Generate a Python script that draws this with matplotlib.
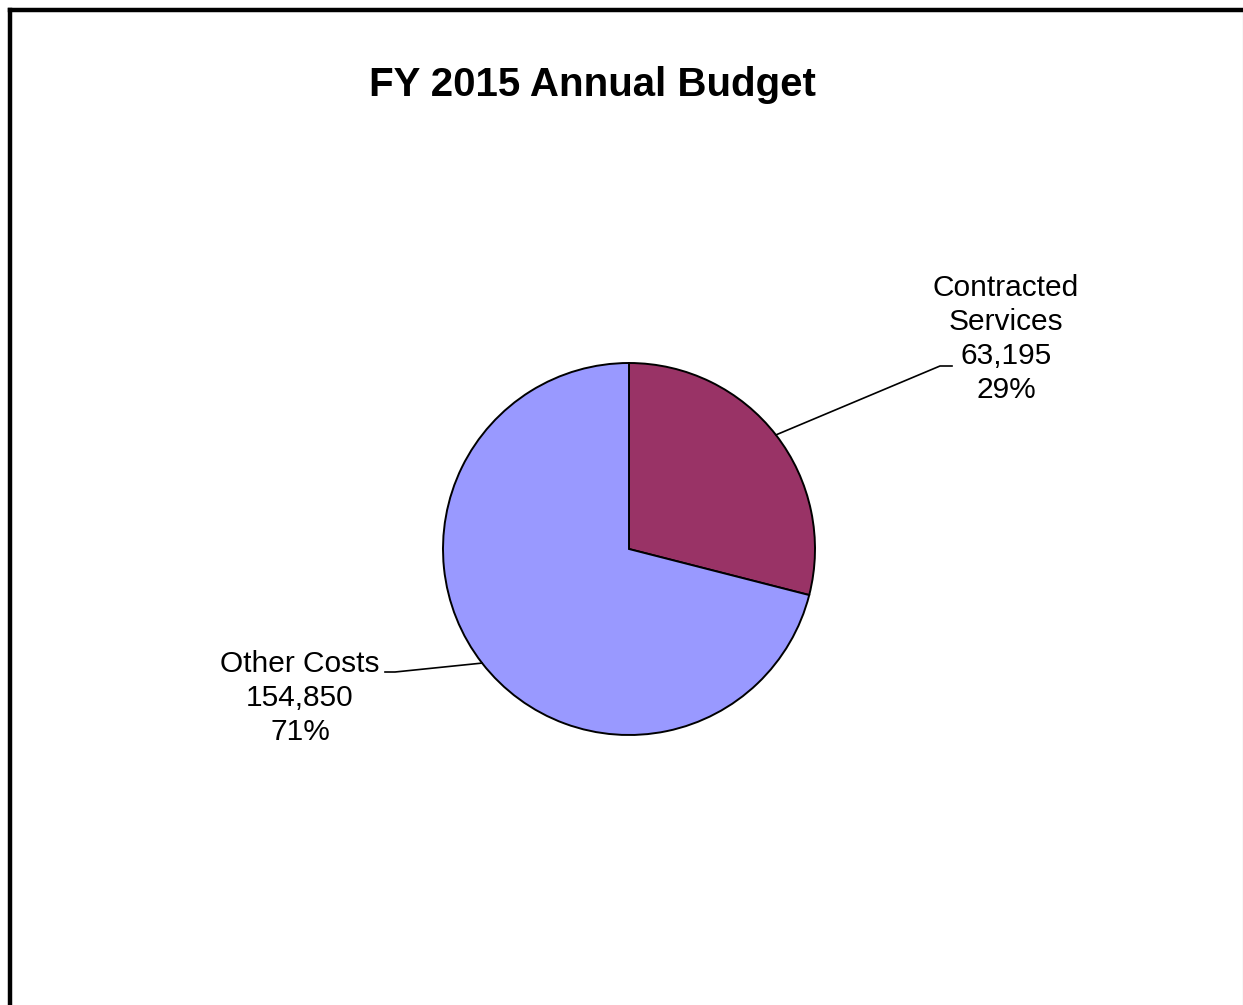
import numpy as np
import matplotlib
matplotlib.use("Agg")
import matplotlib.pyplot as plt
from matplotlib.lines import Line2D

plt.rcParams['font.family'] = ['Liberation Sans', 'DejaVu Sans']

# budget data
categories = ['Contracted\nServices', 'Other Costs']
amounts = [63195, 154850]
colors = ['#993366', '#9999FF']

W, H = 1243, 1005
fig = plt.figure(figsize=(W / 100, H / 100), dpi=100)
ax = fig.add_axes([0, 0, 1, 1])

cx, cy, r = 629, H - 549, 186
wedges, _ = ax.pie(amounts, colors=colors, startangle=90, counterclock=False,
                   center=(cx, cy), radius=r,
                   wedgeprops=dict(edgecolor='black', linewidth=1.4))
ax.set_xlim(0, W)
ax.set_ylim(0, H)
ax.set_aspect('equal')
ax.axis('off')

total = sum(amounts)
pcts = [a / total * 100 for a in amounts]

# label block centres and where the leader line meets the text
label_pos = [(1006, H - 339), (300, H - 698)]
elbow_pos = [((940, H - 366), (952, H - 366)), ((395, H - 672), (385, H - 672))]

for w, cat, amt, pct, (lx, ly), (p1, p2) in zip(wedges, categories, amounts, pcts,
                                                 label_pos, elbow_pos):
    mid = np.deg2rad((w.theta1 + w.theta2) / 2)
    x0, y0 = cx + r * np.cos(mid), cy + r * np.sin(mid)
    ax.plot([x0, p1[0], p2[0]], [y0, p1[1], p2[1]], color='black', lw=1.2)
    ax.text(lx, ly, f"{cat}\n{amt:,}\n{pct:.0f}%", ha='center', va='center',
            fontsize=21.5, linespacing=1.28)

fig.text(592 / W, 1 - 85 / H, 'FY 2015 Annual Budget', ha='center', va='center',
         fontsize=29, fontweight='bold')

# outer frame
fig.add_artist(Line2D([10 / W, 10 / W], [0, 1 - 10 / H], color='black', lw=3.2,
                      transform=fig.transFigure, solid_capstyle='projecting'))
fig.add_artist(Line2D([10 / W, 1], [1 - 10 / H, 1 - 10 / H], color='black', lw=3.2,
                      transform=fig.transFigure, solid_capstyle='projecting'))
fig.add_artist(Line2D([1242.5 / W, 1242.5 / W], [0, 1 - 12 / H], color='#808080', lw=0.8,
                      transform=fig.transFigure))

fig.savefig('out.png', dpi=100, facecolor='white')
